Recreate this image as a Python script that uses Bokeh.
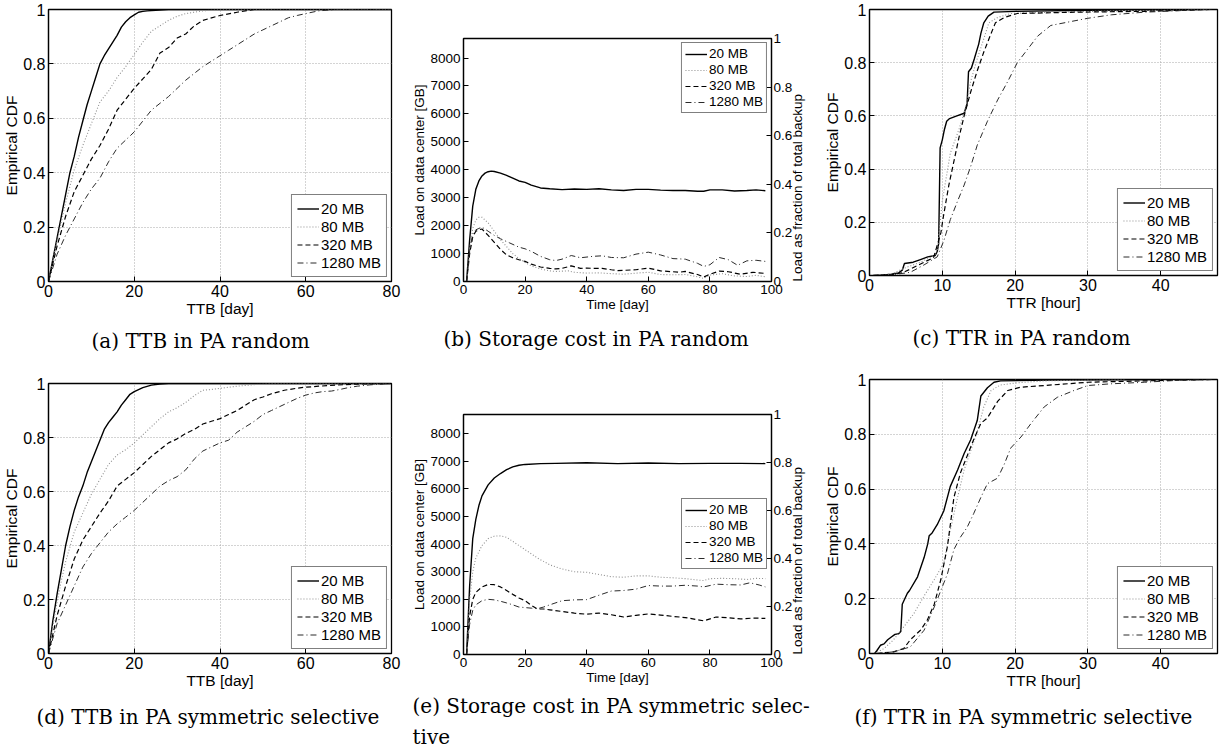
import math
from bokeh.plotting import figure
from bokeh.models import Range1d, LinearAxis, FixedTicker, Legend, LegendItem
from bokeh.layouts import row, column
from bokeh.embed import file_html
from bokeh.resources import INLINE

series_labels = ["20 MB", "80 MB", "320 MB", "1280 MB"]

cdf_ticks = [0, 0.2, 0.4, 0.6, 0.8, 1.0]
cdf_tick_text = ["0", "0.2", "0.4", "0.6", "0.8", "1"]
ttb_ticks = [0, 20, 40, 60, 80]
ttr_ticks = [0, 10, 20, 30, 40]
time_ticks = [0, 20, 40, 60, 80, 100]
load_ticks = [0, 1000, 2000, 3000, 4000, 5000, 6000, 7000, 8000]
load_max = 8700

# ---------------- (a) TTB in PA random ----------------
a20_x = [0, 1, 2, 3, 4, 5, 6, 7, 8, 9, 10, 11, 12, 13, 14, 15, 16, 17, 18, 19, 20, 21, 22, 23, 25, 28, 80]
a20_y = [0, 0.08, 0.16, 0.24, 0.32, 0.40, 0.46, 0.53, 0.59, 0.65, 0.70, 0.75, 0.80, 0.83, 0.855, 0.88, 0.905, 0.935, 0.955, 0.97, 0.98, 0.99, 0.993, 0.995, 0.997, 1.0, 1.0]
a80_x = [0, 2, 4, 6, 8, 10, 12, 14, 16, 18, 20, 22, 24, 26, 28, 30, 32, 34, 36, 40, 80]
a80_y = [0, 0.15, 0.29, 0.41, 0.50, 0.58, 0.66, 0.70, 0.75, 0.79, 0.835, 0.88, 0.92, 0.94, 0.96, 0.975, 0.985, 0.99, 0.995, 1.0, 1.0]
a320_x = [0, 2, 4, 6, 8, 10, 12, 14, 16, 18, 20, 22, 24, 26, 28, 30, 32, 34, 36, 40, 44, 48, 80]
a320_y = [0, 0.13, 0.24, 0.33, 0.39, 0.45, 0.50, 0.56, 0.63, 0.67, 0.71, 0.745, 0.78, 0.84, 0.86, 0.895, 0.91, 0.94, 0.96, 0.978, 0.99, 1.0, 1.0]
a1280_x = [0, 2, 4, 6, 8, 10, 12, 14, 16, 18, 20, 22, 24, 26, 28, 30, 32, 34, 36, 38, 40, 42, 44, 46, 48, 50, 52, 54, 56, 58, 60, 63, 67, 80]
a1280_y = [0, 0.10, 0.17, 0.23, 0.29, 0.34, 0.38, 0.44, 0.49, 0.52, 0.55, 0.59, 0.63, 0.655, 0.68, 0.71, 0.74, 0.765, 0.79, 0.81, 0.83, 0.85, 0.87, 0.89, 0.91, 0.925, 0.94, 0.955, 0.97, 0.978, 0.985, 0.995, 1.0, 1.0]

# ---------------- (b) Storage cost in PA random ----------------
b20_x = [1, 2, 3, 4, 5, 6, 7, 8, 9, 10, 12, 14, 16, 18, 20, 22, 25, 28, 32, 36, 40, 44, 48, 52, 56, 60, 64, 68, 72, 76, 78, 80, 84, 88, 92, 95, 98]
b20_y = [0, 1500, 2700, 3300, 3600, 3780, 3880, 3930, 3950, 3940, 3880, 3800, 3700, 3600, 3550, 3450, 3350, 3320, 3290, 3310, 3300, 3320, 3280, 3260, 3300, 3300, 3270, 3260, 3260, 3230, 3230, 3280, 3280, 3240, 3260, 3280, 3250]
b80_x = [1, 2, 3, 4, 5, 6, 8, 10, 12, 14, 16, 18, 20, 22, 25, 28, 30, 34, 36, 40, 44, 48, 52, 56, 60, 64, 68, 72, 76, 78, 80, 84, 88, 92, 95, 98]
b80_y = [0, 1200, 1900, 2200, 2300, 2300, 2100, 1800, 1500, 1250, 1000, 820, 680, 560, 450, 380, 360, 380, 330, 300, 310, 280, 260, 300, 330, 250, 240, 250, 170, 110, 230, 280, 200, 180, 220, 170]
b320_x = [1, 2, 3, 4, 5, 6, 8, 10, 12, 14, 16, 18, 20, 22, 25, 28, 30, 32, 35, 38, 40, 42, 45, 48, 50, 52, 56, 60, 64, 68, 70, 72, 76, 78, 80, 83, 86, 90, 94, 98]
b320_y = [0, 1000, 1600, 1800, 1850, 1880, 1650, 1400, 1150, 950, 850, 780, 720, 620, 520, 470, 450, 470, 560, 470, 480, 470, 470, 420, 390, 400, 420, 480, 380, 350, 330, 360, 250, 160, 260, 370, 350, 260, 330, 290]
b1280_x = [1, 2, 3, 4, 5, 6, 8, 10, 12, 15, 18, 20, 22, 25, 28, 30, 32, 35, 38, 42, 45, 48, 52, 56, 60, 64, 68, 72, 76, 78, 80, 83, 86, 89, 92, 95, 98]
b1280_y = [0, 1100, 1700, 1850, 1900, 1950, 1800, 1650, 1530, 1380, 1230, 1170, 1080, 900, 780, 750, 800, 930, 850, 900, 920, 860, 850, 980, 1050, 950, 820, 800, 650, 540, 600, 860, 780, 580, 740, 760, 720]

# ---------------- (c) TTR in PA random ----------------
c20_x = [0.5, 2, 3, 4, 4.5, 4.8, 6, 7, 8, 9, 9.3, 9.5, 9.6, 9.7, 10, 10.3, 10.6, 11, 12, 13, 13.4, 13.6, 14, 14.4, 15, 15.3, 15.7, 16.3, 17.1, 20, 30, 45]
c20_y = [0, 0.002, 0.005, 0.01, 0.02, 0.045, 0.05, 0.06, 0.07, 0.075, 0.09, 0.12, 0.3, 0.48, 0.51, 0.55, 0.58, 0.59, 0.60, 0.61, 0.645, 0.766, 0.78, 0.815, 0.87, 0.91, 0.95, 0.975, 0.99, 0.993, 0.997, 1.0]
c80_x = [0.5, 3, 5, 7, 8.5, 9.3, 10, 11.1, 12.3, 13.2, 13.9, 14.8, 15.7, 16.4, 17.6, 19.4, 25, 35, 47]
c80_y = [0, 0.005, 0.03, 0.05, 0.07, 0.085, 0.28, 0.46, 0.55, 0.63, 0.73, 0.815, 0.89, 0.95, 0.97, 0.985, 0.99, 0.995, 1.0]
c320_x = [0.5, 3, 4.5, 5.6, 7.5, 8.8, 9.8, 10.2, 10.9, 11.6, 12.3, 13, 13.9, 14.8, 15.7, 16.7, 17.3, 18.5, 20.3, 28.6, 37.7, 44, 47]
c320_y = [0, 0.003, 0.01, 0.024, 0.05, 0.067, 0.16, 0.23, 0.34, 0.43, 0.52, 0.6, 0.69, 0.77, 0.84, 0.91, 0.95, 0.97, 0.985, 0.99, 0.993, 0.998, 1.0]
c1280_x = [0.5, 3, 5.6, 7.5, 9.3, 10.2, 11.1, 12.1, 13, 13.9, 14.8, 16.2, 17.6, 19, 20.3, 21.7, 23.1, 24.9, 27.7, 30, 33.2, 37.8, 42.3, 44, 47]
c1280_y = [0, 0.002, 0.012, 0.04, 0.07, 0.13, 0.21, 0.28, 0.34, 0.41, 0.49, 0.58, 0.66, 0.73, 0.80, 0.85, 0.90, 0.94, 0.955, 0.967, 0.98, 0.99, 0.995, 0.999, 1.0]

# ---------------- (d) TTB in PA symmetric selective ----------------
d20_x = [0, 1, 2, 3, 4, 5, 6, 7, 8, 9, 10, 11, 12, 13, 14, 15, 16, 17, 18, 19, 20, 22, 24, 26, 28, 80]
d20_y = [0, 0.12, 0.22, 0.31, 0.40, 0.47, 0.53, 0.58, 0.62, 0.67, 0.71, 0.75, 0.79, 0.83, 0.855, 0.875, 0.895, 0.92, 0.94, 0.96, 0.97, 0.985, 0.994, 0.998, 1.0, 1.0]
d80_x = [0, 1, 2, 3, 4, 6, 8, 10, 12, 14, 16, 18, 20, 22, 24, 26, 28, 30, 32, 34, 36, 38, 40, 44, 48, 52, 80]
d80_y = [0, 0.10, 0.19, 0.27, 0.34, 0.45, 0.52, 0.59, 0.645, 0.70, 0.735, 0.755, 0.78, 0.81, 0.84, 0.87, 0.895, 0.91, 0.93, 0.955, 0.975, 0.978, 0.982, 0.99, 0.996, 1.0, 1.0]
d320_x = [0, 2, 4, 6, 8, 10, 12, 14, 16, 18, 20, 22, 24, 26, 28, 30, 32, 34, 36, 38, 40, 42, 44, 46, 48, 50, 52, 55, 59, 63, 67, 72, 80]
d320_y = [0, 0.14, 0.25, 0.35, 0.42, 0.47, 0.52, 0.565, 0.62, 0.645, 0.67, 0.70, 0.73, 0.755, 0.78, 0.795, 0.815, 0.83, 0.85, 0.86, 0.87, 0.885, 0.90, 0.92, 0.94, 0.95, 0.962, 0.975, 0.985, 0.99, 0.994, 0.998, 1.0]
d1280_x = [0, 2, 4, 6, 8, 10, 12, 14, 16, 18, 20, 22, 24, 26, 28, 30, 32, 34, 36, 38, 40, 42, 44, 46, 48, 50, 52, 54, 56, 58, 60, 62, 64, 66, 68, 70, 72, 75, 80]
d1280_y = [0, 0.11, 0.18, 0.25, 0.32, 0.37, 0.41, 0.45, 0.48, 0.505, 0.53, 0.56, 0.59, 0.62, 0.64, 0.655, 0.68, 0.72, 0.75, 0.765, 0.78, 0.79, 0.82, 0.84, 0.86, 0.885, 0.90, 0.915, 0.93, 0.945, 0.957, 0.965, 0.97, 0.972, 0.978, 0.985, 0.99, 0.995, 1.0]

# ---------------- (e) Storage cost in PA symmetric selective ----------------
e20_x = [1, 2, 3, 4, 5, 6, 8, 10, 12, 14, 16, 18, 20, 25, 30, 40, 50, 60, 70, 80, 90, 98]
e20_y = [0, 2500, 4200, 4900, 5400, 5750, 6150, 6400, 6560, 6700, 6800, 6860, 6890, 6920, 6930, 6950, 6920, 6940, 6920, 6930, 6930, 6920]
e80_x = [1, 2, 3, 4, 6, 8, 10, 12, 14, 16, 18, 20, 24, 28, 32, 36, 40, 44, 48, 52, 56, 60, 64, 68, 72, 76, 78, 80, 84, 88, 92, 95, 98]
e80_y = [0, 2000, 3000, 3500, 3950, 4200, 4290, 4300, 4250, 4100, 3950, 3800, 3500, 3250, 3100, 3000, 2980, 2900, 2820, 2800, 2850, 2850, 2800, 2780, 2750, 2700, 2680, 2750, 2760, 2750, 2720, 2760, 2750]
e320_x = [1, 2, 3, 4, 6, 8, 10, 12, 14, 16, 18, 20, 22, 24, 26, 28, 32, 36, 40, 44, 48, 52, 56, 60, 64, 68, 72, 76, 78, 82, 86, 90, 94, 98]
e320_y = [0, 1400, 2000, 2250, 2450, 2540, 2530, 2450, 2320, 2180, 2050, 1950, 1780, 1650, 1650, 1620, 1560, 1500, 1460, 1500, 1440, 1360, 1420, 1470, 1430, 1380, 1340, 1260, 1220, 1360, 1330, 1290, 1320, 1310]
e1280_x = [1, 2, 3, 4, 6, 8, 10, 12, 14, 16, 18, 20, 22, 24, 26, 28, 32, 36, 40, 44, 48, 52, 56, 60, 64, 68, 72, 76, 78, 82, 86, 90, 93, 96, 98]
e1280_y = [0, 1100, 1600, 1800, 1950, 2000, 1980, 1930, 1870, 1800, 1720, 1700, 1680, 1660, 1720, 1800, 1950, 1980, 1990, 2150, 2300, 2320, 2370, 2500, 2480, 2480, 2510, 2480, 2450, 2550, 2530, 2520, 2600, 2520, 2450]

# ---------------- (f) TTR in PA symmetric selective ----------------
f20_x = [0.7, 1, 1.5, 2, 2.5, 3, 3.5, 4, 4.3, 4.5, 5.2, 5.5, 6.6, 7.5, 8, 8.2, 8.6, 9.3, 10.2, 11.1, 12.1, 13, 13.9, 14.8, 15.3, 16.2, 17.1, 18, 25, 40]
f20_y = [0, 0.01, 0.03, 0.035, 0.05, 0.06, 0.07, 0.072, 0.08, 0.18, 0.22, 0.23, 0.28, 0.35, 0.40, 0.43, 0.44, 0.47, 0.52, 0.61, 0.67, 0.73, 0.78, 0.85, 0.94, 0.97, 0.99, 0.995, 0.998, 1.0]
f80_x = [0.7, 2, 3.3, 4.7, 6.1, 7.5, 8.9, 10.2, 11.1, 12.1, 13, 13.9, 14.8, 15.7, 16.7, 18, 20.3, 24, 35]
f80_y = [0, 0.018, 0.05, 0.097, 0.146, 0.21, 0.27, 0.33, 0.45, 0.57, 0.67, 0.74, 0.81, 0.9, 0.96, 0.98, 0.988, 0.995, 1.0]
f320_x = [1, 3.3, 4.7, 5.6, 7, 7.9, 8.9, 9.8, 10.7, 11.6, 12.5, 13.4, 14.3, 15.3, 16.2, 17.6, 19, 20.8, 24, 30, 37.8, 47]
f320_y = [0, 0.006, 0.018, 0.05, 0.085, 0.12, 0.18, 0.27, 0.39, 0.57, 0.66, 0.72, 0.78, 0.84, 0.86, 0.92, 0.96, 0.972, 0.978, 0.99, 0.995, 1.0]
f1280_x = [1, 3.3, 5.6, 7.5, 8.9, 9.8, 10.7, 11.6, 12.5, 13.4, 14.3, 15.3, 16.2, 17.6, 18.5, 19.4, 20.8, 22.2, 24, 25.8, 28.1, 30, 33, 37.8, 42.3, 47]
f1280_y = [0, 0.006, 0.024, 0.085, 0.17, 0.23, 0.29, 0.38, 0.425, 0.46, 0.51, 0.57, 0.62, 0.64, 0.69, 0.75, 0.79, 0.84, 0.90, 0.935, 0.96, 0.978, 0.984, 0.99, 0.997, 1.0]

# ---------------- styling / layout ----------------
LINE_STYLES = [
    dict(line_color="#000000", line_width=1.4, line_dash="solid"),
    dict(line_color="#8f8f8f", line_width=1.1, line_dash="1 2"),
    dict(line_color="#000000", line_width=1.2, line_dash="5 3"),
    dict(line_color="#2a2a2a", line_width=1.0, line_dash="6 3 1 3"),
]
SANS = "Liberation Sans"
SERIF = "DejaVu Serif"

COL_W = [405, 410, 410]
COL_LR = [(48, 14), (58, 44), (54, 8)]
ROW_H = [360, 393]


def style_axis(ax, fs, label_fs):
    ax.major_tick_in = 5
    ax.major_tick_out = 0
    ax.minor_tick_line_color = None
    ax.axis_line_color = "black"
    ax.axis_line_width = 1.2
    ax.major_tick_line_color = "black"
    ax.major_label_text_font = SANS
    ax.major_label_text_font_size = fs
    ax.major_label_text_color = "black"
    ax.axis_label_text_font = SANS
    ax.axis_label_text_font_size = label_fs
    ax.axis_label_text_font_style = "normal"
    ax.axis_label_text_color = "black"
    ax.major_label_standoff = 3
    ax.axis_label_standoff = 0


def panel(kind, caption, xs, ys, x_end, xticks, xlabel, col, rw, top, bottom,
          legend_loc, legend_fs, title_standoff, title_offset):
    left, right = COL_LR[col]
    y_rng = Range1d(0, 1) if kind == "cdf" else Range1d(0, load_max)
    p = figure(width=COL_W[col], height=ROW_H[rw], output_backend="svg", toolbar_location=None,
               x_range=Range1d(0, x_end), y_range=y_rng,
               min_border_left=left, min_border_right=right,
               min_border_top=top, min_border_bottom=bottom,
               title=caption, title_location="below")
    p.background_fill_color = "white"
    p.border_fill_color = "white"
    p.outline_line_color = "black"
    p.outline_line_width = 1.3
    p.outline_line_alpha = 1.0

    p.title.text_font = SERIF
    p.title.text_font_size = "20px"
    p.title.text_font_style = "normal"
    p.title.text_color = "black"
    p.title.align = "left"
    p.title.offset = title_offset
    p.title.standoff = title_standoff
    p.title.text_line_height = 1.3

    xt = FixedTicker(ticks=xticks)
    p.xaxis.ticker = xt
    p.xaxis.axis_label = xlabel

    if kind == "cdf":
        fs = "16px"
        yt = FixedTicker(ticks=cdf_ticks)
        p.yaxis.ticker = yt
        p.yaxis.major_label_overrides = {t: s for t, s in zip(cdf_ticks, cdf_tick_text)}
        p.yaxis.axis_label = "Empirical CDF"
        p.xgrid.ticker = xt
        p.ygrid.ticker = yt
        for g in (p.xgrid, p.ygrid):
            g.grid_line_color = "#a8a8a8"
            g.grid_line_dash = "1 2"
            g.grid_line_width = 1
        style_axis(p.xaxis[0], fs, "15.5px")
        style_axis(p.yaxis[0], fs, "15.5px")
    else:
        fs = "13.5px"
        yt = FixedTicker(ticks=load_ticks)
        p.yaxis.ticker = yt
        p.yaxis.axis_label = "Load on data center [GB]"
        p.xgrid.visible = False
        p.ygrid.visible = False
        style_axis(p.xaxis[0], fs, fs)
        style_axis(p.yaxis[0], fs, fs)
        p.extra_y_ranges = {"frac": Range1d(0, 1)}
        rax = LinearAxis(y_range_name="frac", ticker=FixedTicker(ticks=cdf_ticks),
                         axis_label="Load as fraction of total backup")
        rax.major_label_overrides = {t: s for t, s in zip(cdf_ticks, cdf_tick_text)}
        style_axis(rax, fs, fs)
        rax.major_label_standoff = 2
        rax.axis_label_standoff = 2
        try:
            # read bottom-to-top like the left label, starting near the bottom of the box
            rax.axis_label_orientation = math.pi / 2
            rax.axis_label_align = "start"
        except Exception:
            pass
        p.add_layout(rax, "right")

    renderers = []
    for x, y, st in zip(xs, ys, LINE_STYLES):
        renderers.append(p.line(x, y, **st))

    items = [LegendItem(label=l, renderers=[r]) for l, r in zip(series_labels, renderers)]
    lg = Legend(items=items, location=legend_loc)
    lg.label_text_font = SANS
    lg.label_text_font_size = legend_fs
    lg.label_text_color = "black"
    lg.glyph_width = 22
    if kind == "cdf":
        lg.glyph_height = 17
        lg.label_height = 17
        lg.padding = 5
    else:
        lg.glyph_height = 14
        lg.label_height = 14
        lg.padding = 3
    lg.label_standoff = 2
    lg.spacing = 1
    lg.margin = 4
    lg.border_line_color = "black"
    lg.border_line_width = 1.2
    lg.background_fill_color = "white"
    lg.background_fill_alpha = 1.0
    p.add_layout(lg)
    return p


pa = panel("cdf", "(a) TTB in PA random",
           [a20_x, a80_x, a320_x, a1280_x], [a20_y, a80_y, a320_y, a1280_y],
           80, ttb_ticks, "TTB [day]", 0, 0, 9, 79, "bottom_right", "15px", 15, 43)
pb = panel("load", "(b) Storage cost in PA random",
           [b20_x, b80_x, b320_x, b1280_x], [b20_y, b80_y, b320_y, b1280_y],
           100, time_ticks, "Time [day]", 1, 0, 38, 79, "top_right", "13.5px", 20, -20)
pc = panel("cdf", "(c) TTR in PA random",
           [c20_x, c80_x, c320_x, c1280_x], [c20_y, c80_y, c320_y, c1280_y],
           47.8, ttr_ticks, "TTR [hour]", 2, 0, 9, 82, "bottom_right", "15px", 21, 43)
pd = panel("cdf", "(d) TTB in PA symmetric selective",
           [d20_x, d80_x, d320_x, d1280_x], [d20_y, d80_y, d320_y, d1280_y],
           80, ttb_ticks, "TTB [day]", 0, 1, 23, 100, "bottom_right", "15px", 23, -12)
pe = panel("load", "(e) Storage cost in PA symmetric selec-\ntive",
           [e20_x, e80_x, e320_x, e1280_x], [e20_y, e80_y, e320_y, e1280_y],
           100, time_ticks, "Time [day]", 1, 1, 54, 95, (218, 85), "13.5px", 9, -51)
pf = panel("cdf", "(f) TTR in PA symmetric selective",
           [f20_x, f80_x, f320_x, f1280_x], [f20_y, f80_y, f320_y, f1280_y],
           47.8, ttr_ticks, "TTR [hour]", 2, 1, 19, 100, "bottom_right", "15px", 23, -15)

# one column per figure column, so that each panel keeps its own frame position
layout = row(column(pa, pd), column(pb, pe), column(pc, pf))

with open("out.html", "w") as fh:
    fh.write(file_html(layout, INLINE))
